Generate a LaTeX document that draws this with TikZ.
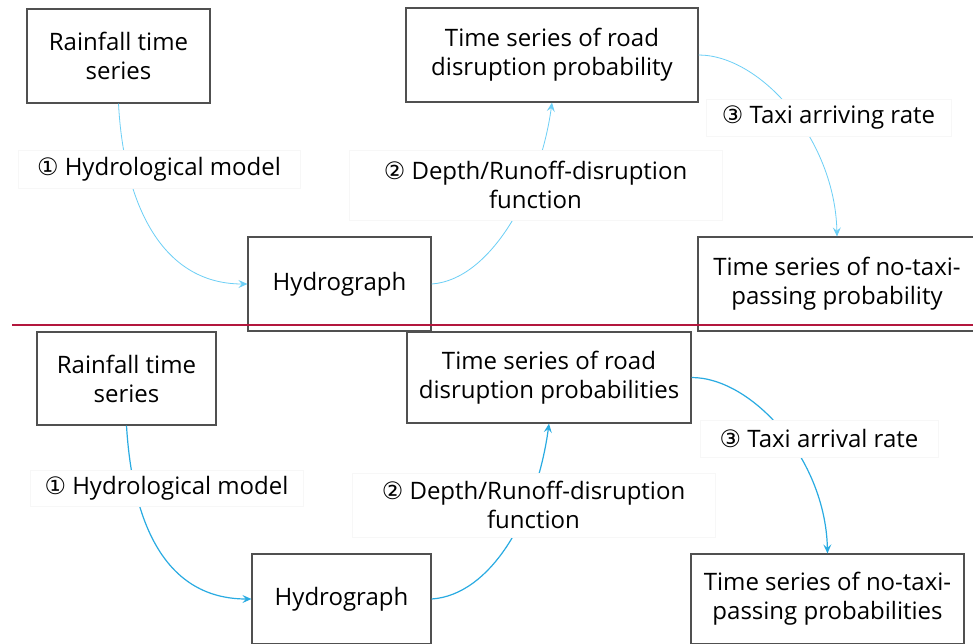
\documentclass[tikz,border=0pt]{standalone}
\usepackage{fontspec}
\setmainfont{Open Sans}
\newfontfamily\circfont{DejaVu Sans}
\usetikzlibrary{arrows.meta}
\definecolor{boxgray}{HTML}{505050}
\definecolor{arrlight}{HTML}{6CCFF6}
\definecolor{arrdark}{HTML}{29ABE2}
\definecolor{sepred}{HTML}{B3173D}
\newcommand{\cnum}[1]{{\circfont #1}}
\begin{document}
\begin{tikzpicture}[x=1pt,y=-1pt,
  box/.style={draw=boxgray,line width=1.2pt,fill=white,align=center,inner sep=0pt,
    font=\fontsize{24}{29}\selectfont},
  lbl/.style={draw=black!3,fill=white,align=center,inner sep=0pt,
    font=\fontsize{24}{29}\selectfont},
  arra/.style={draw=arrlight,line width=0.8pt,-{Stealth[length=9pt,width=8pt,inset=3.5pt]}},
  arrb/.style={draw=arrdark,line width=1.2pt,-{Stealth[length=9pt,width=8pt,inset=3.5pt]}}]
\useasboundingbox (0,0) rectangle (973,643);
\clip (0,0) rectangle (973,643);
\fill[white] (0,0) rectangle (973,643);
% top panel
\node[box,minimum width=183pt,minimum height=94pt] (rain1) at (118.5,56) {Rainfall time\\series};
\node[box,minimum width=183pt,minimum height=94pt] (hyd1) at (339.5,284) {Hydrograph};
\node[box,minimum width=292pt,minimum height=94pt] (road1) at (552,55) {Time series of road\\disruption probability};
\node[box,minimum width=278pt,minimum height=94pt] (nt1) at (837,284) {Time series of no-taxi-\\passing probability};
\draw[arra] (rain1.south) .. controls +(5,96) and +(-88,0) .. (hyd1.west);
\draw[arra] (hyd1.east) .. controls +(59,-4) and +(-12,88) .. (road1.south);
\draw[arra] (road1.east) .. controls +(62,0) and +(-2,-97) .. (nt1.north);
\node[lbl,minimum width=282pt,minimum height=38pt] (l1a) at (159,169) {\cnum{①} Hydrological model};
\node[lbl,minimum width=373pt,minimum height=70pt] (l2a) at (535.5,185) {\cnum{②} Depth/Runoff-disruption\\function};
\node[lbl,minimum width=245pt,minimum height=37pt] (l3a) at (828.5,117.5) {\cnum{③} Taxi arriving rate};
% bottom panel
\node[box,minimum width=179pt,minimum height=93pt] (rain2) at (126.5,378.5) {Rainfall time\\series};
\node[box,minimum width=179pt,minimum height=90pt] (hyd2) at (341.5,599) {Hydrograph};
\node[box,minimum width=284pt,minimum height=91pt] (road2) at (549,377.5) {Time series of road\\disruption probabilities};
\node[box,minimum width=273pt,minimum height=90pt] (nt2) at (827.5,599) {Time series of no-taxi-\\passing probabilities};
\draw[arrb] (rain2.south) .. controls +(6,100) and +(-85,0) .. (hyd2.west);
\draw[arrb] (hyd2.east) .. controls +(60,-4) and +(-12,90) .. (road2.south);
\draw[arrb] (road2.east) .. controls +(60,0) and +(-2,-95) .. (nt2.north);
\node[lbl,minimum width=273pt,minimum height=36pt] (l1b) at (166.5,488) {\cnum{①} Hydrological model};
\node[lbl,minimum width=363pt,minimum height=64pt] (l2b) at (533.5,505) {\cnum{②} Depth/Runoff-disruption\\function};
\node[lbl,minimum width=238pt,minimum height=37pt] (l3b) at (819,438.5) {\cnum{③} Taxi arrival rate};
% separator
\coordinate (sepL) at (12,325);
\coordinate (sepR) at (973,325);
\draw[sepred,line width=2pt] (sepL) -- (sepR);
\end{tikzpicture}
\end{document}
